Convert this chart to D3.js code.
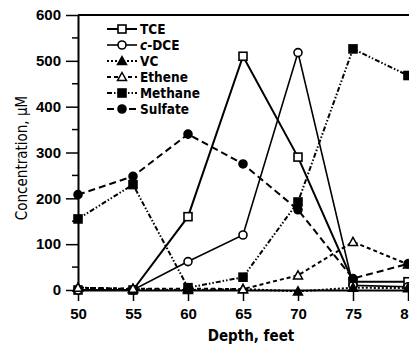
<!DOCTYPE html>
<html>
<head>
<meta charset="utf-8">
<script src="https://cdn.jsdelivr.net/npm/d3@7"></script>
<style>
  body { margin: 0; background: #fff; }
  svg { display: block; font-family: "Liberation Sans Narrow", "Arial Narrow", "DejaVu Sans Condensed", sans-serif; }
  .tick text { font-weight: bold; font-size: 15px; fill: #000; }
</style>
</head>
<body>
<svg id="chart"></svg>
<script>
// depth values (feet)
const depths = [50, 55, 60, 65, 70, 75, 80];

// concentrations, µM
const tce     = [0, 0, 160, 510, 290, 18, 18];
const cdce    = [0, 0, 62, 120, 518, 10, 7];
const vc      = [5, 2, 0, 2, -3, 5, 4];
const ethene  = [5, 3, 3, 2, 32, 105, 56];
const methane = [155, 230, 5, 28, 192, 526, 468];
const sulfate = [208, 248, 340, 275, 175, 25, 57];

const yTicks = [0, 100, 200, 300, 400, 500, 600];

const series = [
  { name: 'TCE', values: tce, marker: 'square', filled: false, dash: null, width: 2 },
  { name: 'c-DCE', values: cdce, marker: 'circle', filled: false, dash: null, width: 1.6 },
  { name: 'VC', values: vc, marker: 'triangle', filled: true, dash: '2,2', width: 2 },
  { name: 'Ethene', values: ethene, marker: 'triangle', filled: false, dash: '4,3', width: 2 },
  { name: 'Methane', values: methane, marker: 'square', filled: true, dash: '5,2,1.5,2,1.5,2', width: 2 },
  { name: 'Sulfate', values: sulfate, marker: 'circle', filled: true, dash: '7,4', width: 2 }
];

const W = 409, H = 346;
const margin = { top: 15, left: 78 };

const svg = d3.select('#chart').attr('width', W).attr('height', H);

const x = d3.scaleLinear().domain([50, 80]).range([margin.left, 408]);
const y = d3.scaleLinear().domain([0, 600]).range([290, margin.top]);

// frame
svg.append('line').attr('x1', margin.left).attr('x2', W + 5)
  .attr('y1', y(600)).attr('y2', y(600)).attr('stroke', '#000').attr('stroke-width', 2);

// y axis
const yAxis = d3.axisLeft(y).tickValues(yTicks).tickSize(12).tickPadding(5).tickSizeOuter(0);
svg.append('g').attr('transform', `translate(${margin.left},0)`).call(yAxis)
  .call(g => g.select('.domain').attr('stroke-width', 2))
  .call(g => g.selectAll('.tick line').attr('stroke-width', 1.5));
// minor ticks
svg.append('g').selectAll('line')
  .data(d3.range(50, 600, 100))
  .join('line')
  .attr('x1', margin.left - 6).attr('x2', margin.left)
  .attr('y1', d => y(d)).attr('y2', d => y(d))
  .attr('stroke', '#000').attr('stroke-width', 1.5);

// x axis
const xAxis = d3.axisBottom(x).tickValues(depths).tickSize(11).tickPadding(7).tickSizeOuter(0);
svg.append('g').attr('transform', `translate(0,${y(0)})`).call(xAxis)
  .call(g => g.select('.domain').attr('stroke-width', 2))
  .call(g => g.selectAll('.tick line').attr('stroke-width', 1.5));

// axis titles
svg.append('text')
  .attr('transform', `translate(27,158) rotate(-90)`)
  .attr('text-anchor', 'middle')
  .attr('font-size', 15)
  .text('Concentration, \u00b5M');

svg.append('text')
  .attr('x', 251).attr('y', 341)
  .attr('text-anchor', 'middle')
  .attr('font-size', 15)
  .attr('font-weight', 'bold')
  .text('Depth, feet');

function drawMarker(g, type, filled, cx, cy) {
  const fill = filled ? '#000' : '#fff';
  if (type === 'square') {
    g.append('rect').attr('x', cx - 4).attr('y', cy - 4).attr('width', 8).attr('height', 8)
      .attr('fill', fill).attr('stroke', '#000').attr('stroke-width', 1.6);
  } else if (type === 'circle') {
    g.append('circle').attr('cx', cx).attr('cy', cy).attr('r', 4)
      .attr('fill', fill).attr('stroke', '#000').attr('stroke-width', 1.6);
  } else {
    const s = 4.5;
    g.append('path')
      .attr('d', `M${cx},${cy - s}L${cx + s},${cy + s * 0.8}L${cx - s},${cy + s * 0.8}Z`)
      .attr('fill', fill).attr('stroke', '#000').attr('stroke-width', 1.5);
  }
}

const line = d3.line().x((d, i) => x(depths[i])).y(d => y(d));
const plot = svg.append('g');

series.forEach(s => {
  plot.append('path')
    .datum(s.values)
    .attr('d', line)
    .attr('fill', 'none')
    .attr('stroke', '#000')
    .attr('stroke-width', s.width)
    .attr('stroke-dasharray', s.dash);
});
series.forEach(s => {
  const g = plot.append('g');
  s.values.forEach((v, i) => drawMarker(g, s.marker, s.filled, x(depths[i]), y(v)));
});

// legend
const legend = svg.append('g');
series.forEach((s, i) => {
  const ly = 29 + i * 16;
  const g = legend.append('g');
  g.append('line').attr('x1', 107).attr('x2', 137).attr('y1', ly).attr('y2', ly)
    .attr('stroke', '#000').attr('stroke-width', s.width).attr('stroke-dasharray', s.dash);
  drawMarker(g, s.marker, s.filled, 122, ly);
  const t = g.append('text').attr('x', 140).attr('y', ly + 5)
    .attr('font-size', 13.5).attr('font-weight', 'bold');
  if (s.name === 'c-DCE') {
    t.append('tspan').attr('font-style', 'italic').text('c');
    t.append('tspan').text('-DCE');
  } else {
    t.text(s.name);
  }
});
</script>
</body>
</html>
